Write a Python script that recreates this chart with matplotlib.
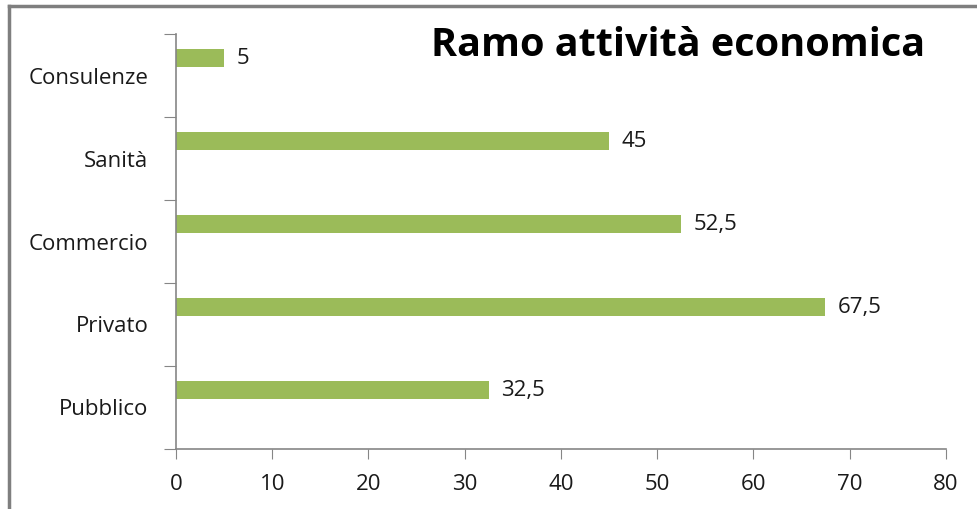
import matplotlib.pyplot as plt
from matplotlib.lines import Line2D

categories = ['Pubblico', 'Privato', 'Commercio', 'Sanità', 'Consulenze']
values = [32.5, 67.5, 52.5, 45, 5]
value_labels = ['32,5', '67,5', '52,5', '45', '5']
x_ticks = [0, 10, 20, 30, 40, 50, 60, 70, 80]

plt.rcParams['font.family'] = ['Open Sans', 'DejaVu Sans']

fig = plt.figure(figsize=(9.78, 5.09), dpi=100)
ax = fig.add_axes([0.18, 0.118, 0.787, 0.815])

bar_color = '#9BBB59'
axis_color = '#868686'
text_color = '#1a1a1a'
offset = 0.21  # bars sit in the upper part of each band, Excel-style
ypos = [i + offset for i in range(len(categories))]
ax.barh(ypos, values, height=0.21, color=bar_color, edgecolor='none')

for y, v, lab in zip(ypos, values, value_labels):
    ax.text(v + 1.3, y, lab, va='center', ha='left', fontsize=16, color=text_color)

ax.set_xlim(0, 80)
ax.set_ylim(-0.5, len(categories) - 0.5)
ax.set_xticks(x_ticks)
ax.set_xticklabels([str(t) for t in x_ticks], fontsize=16, color=text_color)

# category labels at band centres, tick marks at band boundaries
ax.set_yticks([i - 0.5 for i in range(len(categories) + 1)])
ax.set_yticklabels([])
ax.set_yticks(range(len(categories)), minor=True)
ax.set_yticklabels(categories, minor=True, fontsize=16, color=text_color)
ax.tick_params(axis='y', which='minor', length=0, pad=20)
ax.tick_params(axis='y', which='major', length=9, color=axis_color, direction='out')
ax.tick_params(axis='x', length=7, color=axis_color, direction='out', pad=11)

for side in ['top', 'right']:
    ax.spines[side].set_visible(False)
for side in ['left', 'bottom']:
    ax.spines[side].set_color(axis_color)
    ax.spines[side].set_linewidth(1.2)

ax.text(0.973, 0.948, 'Ramo attività economica', transform=ax.transAxes,
        ha='right', va='baseline', fontsize=28.5, fontweight='bold', color='black')

# outer chart frame, partly cut off at right and bottom
fig.add_artist(Line2D([9 / 978, 1.0], [1 - 6 / 509, 1 - 6 / 509], color='#7f7f7f', lw=2.5,
                      transform=fig.transFigure))
fig.add_artist(Line2D([9 / 978, 9 / 978], [0.0, 1 - 6 / 509], color='#7f7f7f', lw=2.5,
                      transform=fig.transFigure))

fig.savefig('out.png', dpi=100)
